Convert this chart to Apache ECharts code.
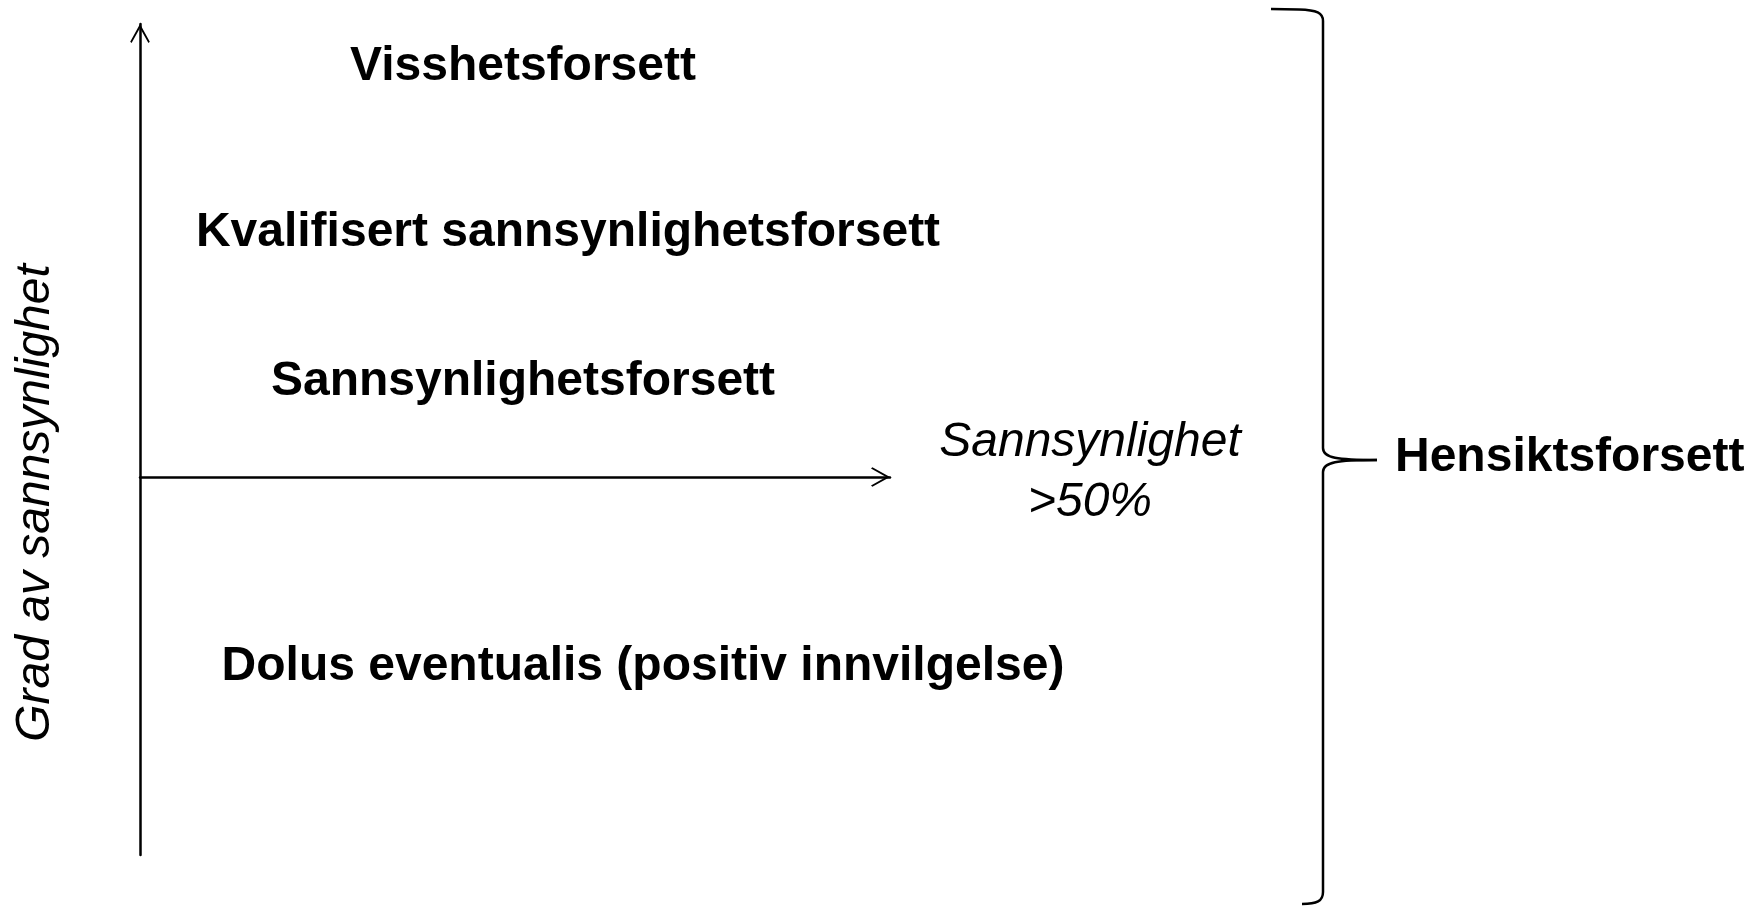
<!DOCTYPE html>
<html>
<head>
<meta charset="utf-8">
<script src="https://cdn.jsdelivr.net/npm/echarts@6/dist/echarts.min.js"></script>
<style>
  html, body { margin: 0; padding: 0; background: #ffffff; }
  #chart { width: 1760px; height: 907px; }
</style>
</head>
<body>
<div id="chart"></div>
<script>
// Diagram coordinate system: x runs along the horizontal axis, y along the vertical axis (0 = horizontal axis).
const xRange = [0, 750];
const yRange = [-378, 453];

// Bold category labels inside the diagram
const boldLabels = [
  'Visshetsforsett',
  'Kvalifisert sannsynlighetsforsett',
  'Sannsynlighetsforsett',
  'Dolus eventualis (positiv innvilgelse)'
];
const boldLabelX = [383, 428, 383, 503];
const boldLabelY = [410, 244, 95, -190];

// Label at the end of the horizontal axis
const xAxisTitle = 'Sannsynlighet\n>50%';
const xAxisTitlePos = [950, 4];

// Vertical axis title
const yAxisTitle = 'Grad av sannsynlighet';
const yAxisTitlePos = [-104, -26];

// Brace on the right: [spine x, top y, tip y, bottom y]
const brace = [1183, 468, 17, -427];
const braceLabel = 'Hensiktsforsett';
const braceLabelPos = [1255, 19];

const FONT = '"Liberation Sans", Arial, Helvetica, sans-serif';
const INK = '#000000';
const chevron = 'path://M50,0 L100,90 L93,97 L50,20 L7,97 L0,90 Z';

const chart = echarts.init(document.getElementById('chart'), null, { renderer: 'canvas' });

function labelItem(text, pos) {
  return { name: text, value: pos };
}

const boldData = boldLabels.map((t, i) => labelItem(t, [boldLabelX[i], boldLabelY[i]]));

function textSeries(data, labelStyle) {
  return {
    type: 'scatter', clip: false, symbolSize: 0, silent: true,
    itemStyle: { color: INK, opacity: 1 },
    emphasis: { disabled: true },
    data: data,
    label: Object.assign({
      show: true, position: 'inside', formatter: p => p.name,
      color: INK, opacity: 1, textBorderWidth: 0, fontFamily: FONT, fontSize: 48,
      align: 'center', verticalAlign: 'middle'
    }, labelStyle)
  };
}

const option = {
  backgroundColor: '#ffffff',
  animation: false,
  textStyle: { color: INK, fontFamily: FONT },
  grid: { left: 140, top: 24, width: 750, height: 831, containLabel: false },
  xAxis: {
    type: 'value', min: xRange[0], max: xRange[1],
    axisLine: { show: true, onZero: true, symbol: ['none', chevron], symbolSize: [20, 19], symbolOffset: [0, -9.5],
      lineStyle: { color: INK, width: 2.5 } },
    axisTick: { show: false }, axisLabel: { show: false }, splitLine: { show: false }
  },
  yAxis: {
    type: 'value', min: yRange[0], max: yRange[1],
    axisLine: { show: true, onZero: true, symbol: ['none', chevron], symbolSize: [20, 19], symbolOffset: [0, -9.5],
      lineStyle: { color: INK, width: 2.5 } },
    axisTick: { show: false }, axisLabel: { show: false }, splitLine: { show: false }
  },
  series: [
    textSeries(boldData, { fontWeight: 'bold' }),
    textSeries([labelItem(xAxisTitle, xAxisTitlePos)], { fontStyle: 'italic', lineHeight: 60 }),
    textSeries([labelItem(yAxisTitle, yAxisTitlePos)], { fontStyle: 'italic', rotate: 90 }),
    textSeries([labelItem(braceLabel, braceLabelPos)], { fontWeight: 'bold', align: 'left' }),
    {
      type: 'custom', clip: false, silent: true,
      data: [brace],
      renderItem: function (params, api) {
        const top = api.coord([api.value(0), api.value(1)]);
        const mid = api.coord([api.value(0), api.value(2)]);
        const bot = api.coord([api.value(0), api.value(3)]);
        const x = top[0];
        const st = { stroke: INK, lineWidth: 2.5, fill: 'none' };
        return {
          type: 'group',
          children: [
            { type: 'line', shape: { x1: x - 52, y1: top[1], x2: x - 24, y2: top[1] + 0.5 }, style: st },
            { type: 'bezierCurve', shape: { x1: x - 24, y1: top[1] + 0.5, cpx1: x - 6, cpy1: top[1] + 1, cpx2: x, cpy2: top[1] + 4, x2: x, y2: top[1] + 12 }, style: st },
            { type: 'line', shape: { x1: x, y1: top[1] + 12, x2: x, y2: mid[1] - 12 }, style: st },
            { type: 'bezierCurve', shape: { x1: x, y1: mid[1] - 12, cpx1: x, cpy1: mid[1] - 2, cpx2: x + 14, cpy2: mid[1], x2: x + 54, y2: mid[1] }, style: st },
            { type: 'bezierCurve', shape: { x1: x + 54, y1: mid[1], cpx1: x + 14, cpy1: mid[1], cpx2: x, cpy2: mid[1] + 2, x2: x, y2: mid[1] + 12 }, style: st },
            { type: 'line', shape: { x1: x, y1: mid[1] + 12, x2: x, y2: bot[1] - 12 }, style: st },
            { type: 'bezierCurve', shape: { x1: x, y1: bot[1] - 12, cpx1: x, cpy1: bot[1] - 3, cpx2: x - 6, cpy2: bot[1], x2: x - 21, y2: bot[1] }, style: st }
          ]
        };
      }
    }
  ]
};

chart.setOption(option);
</script>
</body>
</html>
